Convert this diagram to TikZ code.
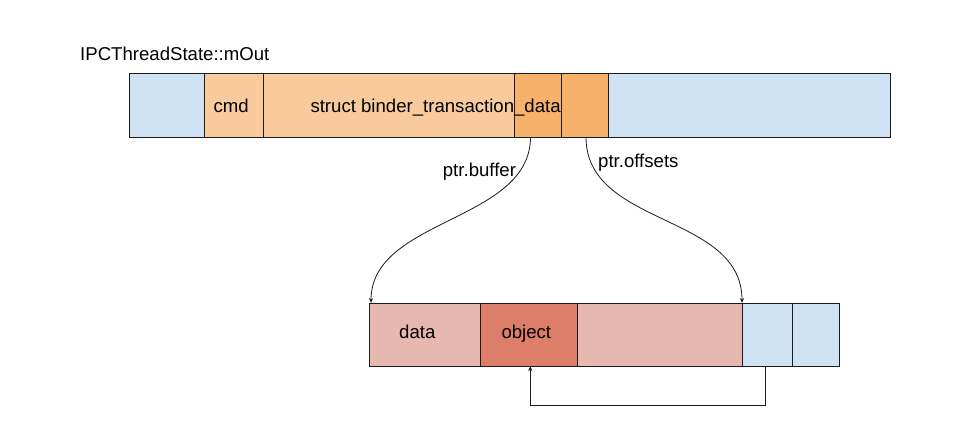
\documentclass[tikz,border=0pt]{standalone}
\usepackage{fontspec}
\setmainfont{Liberation Sans}
\usetikzlibrary{arrows.meta}
\definecolor{cblue}{HTML}{CFE2F3}
\definecolor{corange}{HTML}{F9CB9C}
\definecolor{cdorange}{HTML}{F6B26B}
\definecolor{cpink}{HTML}{E6B8AF}
\definecolor{cred}{HTML}{DD7E6B}
\definecolor{cline}{HTML}{1A1A1A}
\begin{document}
\begin{tikzpicture}[x=1pt,y=-1pt,
  cell/.style={draw=cline,line width=1pt,minimum height=63pt,inner sep=0pt,outer sep=0pt},
  txt/.style={inner sep=0pt,anchor=base west,font=\fontsize{18.6}{21}\selectfont},
  conn/.style={draw=cline,line width=0.8pt,-{Stealth[length=5pt,width=4pt]}}]
\useasboundingbox (0,0) rectangle (970,428);
% top bar
\node[cell,fill=cblue,minimum width=75pt] (t1) at (166.5,105.5) {};
\node[cell,fill=corange,minimum width=59pt] (t2) at (233.5,105.5) {};
\node[cell,fill=corange,minimum width=251pt] (t3) at (388.5,105.5) {};
\node[cell,fill=cdorange,minimum width=47pt] (t4) at (537.5,105.5) {};
\node[cell,fill=cdorange,minimum width=47pt] (t5) at (584.5,105.5) {};
\node[cell,fill=cblue,minimum width=282pt] (t6) at (749,105.5) {};
% bottom bar
\node[cell,fill=cpink,minimum width=111pt] (b1) at (424.5,334.5) {};
\node[cell,fill=cred,minimum width=97pt] (b2) at (528.5,334.5) {};
\node[cell,fill=cpink,minimum width=165pt] (b3) at (659.5,334.5) {};
\node[cell,fill=cblue,minimum width=50pt] (b4) at (767,334.5) {};
\node[cell,fill=cblue,minimum width=47pt] (b5) at (815.5,334.5) {};
% texts
\node[txt] (title) at (80,61) {IPCThreadState::mOut};
\node[txt] (lcmd) at (213.3,112.7) {cmd};
\node[txt] (lstruct) at (310.3,112.7) {struct binder\_transaction\_data};
\node[txt] (ldata) at (399,338.3) {data};
\node[txt] (lobj) at (501.3,338.3) {object};
\node[txt] (lbuf) at (442.7,176.7) {ptr.buffer};
\node[txt] (loff) at (598,167) {ptr.offsets};
% connectors
\draw[conn] ([xshift=-7pt]t4.south) .. controls +(0,85) and +(0,-85) .. ([xshift=2pt]b1.north west);
\draw[conn] ([xshift=1.5pt]t5.south) .. controls +(0,90) and +(0,-90) .. (b4.north west);
\draw[conn] ([xshift=-1.7pt]b4.south) -- ++(0,39) -| ([xshift=1.8pt]b2.south);
\end{tikzpicture}
\end{document}
